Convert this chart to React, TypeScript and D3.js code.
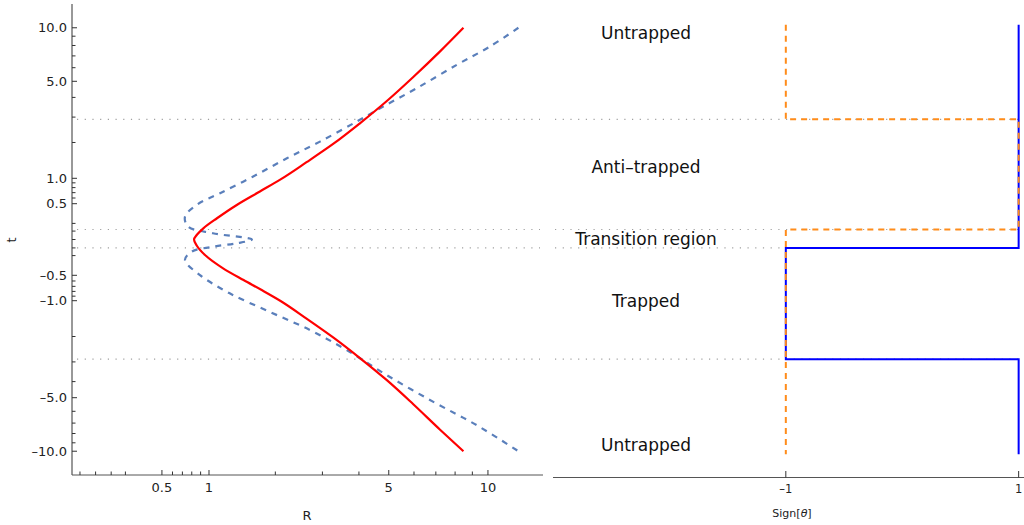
import * as d3 from "d3";

// left panel: R(t) curves
const redT = [10, 7.42, 5.3, 3.8, 2.73, 1.96, 1.4, 0.97, 0.723, 0.479, 0.272, 0.135, 0.052, 0, -0.07, -0.192, -0.386, -0.583, -0.773, -1.0, -1.45, -2.04, -2.83, -3.92, -5.46, -7.62, -10];
const redR = [8.47, 7.21, 5.97, 4.93, 4.03, 3.28, 2.63, 2.09, 1.73, 1.37, 1.1, 0.932, 0.855, 0.825, 0.855, 0.952, 1.18, 1.47, 1.76, 2.09, 2.63, 3.28, 4.03, 4.93, 5.97, 7.21, 8.47];

const blueT = [10, 7.9, 6.23, 4.55, 3.51, 2.8, 2.03, 1.51, 1.04, 0.69, 0.48, 0.295, 0.156, 0.073, 0, -0.044, -0.085, -0.148, -0.262, -0.496, -0.84, -1.27, -1.79, -2.5, -3.65, -5.29, -7.19, -10];
const blueR = [12.25, 10.14, 8.09, 6.12, 4.8, 3.93, 2.94, 2.22, 1.62, 1.14, 0.855, 0.727, 0.762, 1.05, 1.6, 1.37, 1.05, 0.8, 0.727, 0.893, 1.27, 1.9, 2.71, 3.64, 4.93, 6.88, 9.27, 12.25];

// region boundaries in t
const boundaries = [2.9, 0.12, -0.1, -2.88];

// right panel: Sign[theta] per region (top to bottom)
const stepEdges = [10.4, 2.9, 0.12, -0.1, -2.88, -10.4];
const signBlue = [1, 1, 1, -1, 1];
const signOrange = [-1, 1, -1, -1, -1];

const regionLabels = ["Untrapped", "Anti\u2013trapped", "Transition region", "Trapped", "Untrapped"];
const regionLabelT = [9.4, 1.275, 0, -1.0, -9.28];

const yMajor = [10, 5, 1, 0.5, -0.5, -1, -5, -10];
const yMinor = [9, 8, 7, 6, 4, 3, 2, 0.9, 0.8, 0.7, 0.6, 0.2, 0.1, 0, -0.1, -0.2, -0.6, -0.7, -0.8, -0.9, -2, -3, -4, -6, -7, -8, -9];
const xMajor = [0.5, 1, 5, 10];
const xMinor = [-0.1, 0, 0.1, 0.2, 0.6, 0.7, 0.8, 0.9, 2, 3, 4, 6, 7, 8, 9];
const signTicks = [-1, 1];

const font = "DejaVu Sans, sans-serif";
const dash = (s: string) => s.replace("-", "\u2013").replace("\u2212", "\u2013");

export default function App() {
  const y = d3.scaleSymlog().constant(1).domain([-13.4, 13.4]).range([475, 4]);
  const x = d3.scaleSymlog().constant(1).domain([-0.155, 14.4]).range([72, 543]);
  const xs = d3.scaleLinear().domain([-3, 1.046]).range([553, 1024]);

  const blueLine = d3
    .line<[number, number]>()
    .x((d) => x(d[1]))
    .y((d) => y(d[0]))
    .curve(d3.curveCatmullRom.alpha(0.5));
  const redLine = d3
    .line<[number, number]>()
    .x((d) => x(d[1]))
    .y((d) => y(d[0]))
    .curve(d3.curveMonotoneY);

  const redPts = redT.map((t, i) => [t, redR[i]] as [number, number]);
  const bluePts = blueT.map((t, i) => [t, blueR[i]] as [number, number]);

  const stepPts = (signs: number[]) =>
    signs.flatMap((s, i) => [
      [s, stepEdges[i]] as [number, number],
      [s, stepEdges[i + 1]] as [number, number],
    ]);
  const step = d3
    .line<[number, number]>()
    .x((d) => xs(d[0]))
    .y((d) => y(d[1]));

  const fmt = d3.format(".1f");

  return (
    <svg width={1024} height={525} style={{ position: "absolute", left: 0, top: 0, background: "#fff" }} fontFamily={font}>
      {/* grid lines */}
      {boundaries.map((b, i) => (
        <g key={i} stroke="#a0a0a0" strokeWidth={1.2} strokeDasharray="1.2,6.5">
          <line x1={77} x2={540} y1={y(b)} y2={y(b)} />
          <line x1={555} x2={1018} y1={y(b)} y2={y(b)} />
        </g>
      ))}

      {/* left panel axes */}
      <line x1={72} x2={72} y1={4} y2={475} stroke="#333" strokeWidth={1} />
      <line x1={72} x2={543} y1={475} y2={475} stroke="#555" strokeWidth={1} />
      {yMajor.map((t) => (
        <g key={"ym" + t}>
          <line x1={72} x2={77} y1={y(t)} y2={y(t)} stroke="#333" />
          <text x={67} y={y(t)} dy="0.35em" textAnchor="end" fontSize={13} fill="#222">
            {dash(fmt(t))}
          </text>
        </g>
      ))}
      {yMinor.map((t) => (
        <line key={"yn" + t} x1={72} x2={75.5} y1={y(t)} y2={y(t)} stroke="#333" />
      ))}
      {xMajor.map((r) => (
        <g key={"xm" + r}>
          <line x1={x(r)} x2={x(r)} y1={475} y2={470} stroke="#333" />
          <text x={x(r)} y={492} textAnchor="middle" fontSize={13} fill="#222">
            {r}
          </text>
        </g>
      ))}
      {xMinor.map((r) => (
        <line key={"xn" + r} x1={x(r)} x2={x(r)} y1={475} y2={471.5} stroke="#333" />
      ))}
      <text x={307} y={520} textAnchor="middle" fontSize={13} fill="#222">R</text>
      <text transform="translate(16,240) rotate(-90)" textAnchor="middle" fontSize={13} fill="#222">t</text>

      {/* curves */}
      <path d={blueLine(bluePts) ?? ""} fill="none" stroke="#5a7fbb" strokeWidth={2.2} strokeDasharray="6,6" />
      <path d={redLine(redPts) ?? ""} fill="none" stroke="#ff0000" strokeWidth={2.2} />

      {/* right panel */}
      <line x1={553} x2={1024} y1={477.5} y2={477.5} stroke="#555" strokeWidth={1} />
      {signTicks.map((s) => (
        <g key={"st" + s}>
          <line x1={xs(s)} x2={xs(s)} y1={477.5} y2={471} stroke="#333" />
          <text x={xs(s)} y={493} textAnchor="middle" fontSize={11.5} fill="#222">
            {dash(String(s))}
          </text>
        </g>
      ))}
      <text x={792} y={517} textAnchor="middle" fontSize={11} fill="#222">
        Sign[<tspan fontStyle="italic">θ</tspan>]
      </text>

      <path d={step(stepPts(signBlue)) ?? ""} fill="none" stroke="#0000ff" strokeWidth={2} />
      <path d={step(stepPts(signOrange)) ?? ""} fill="none" stroke="#ff8c1a" strokeWidth={2} strokeDasharray="6,5" />

      {regionLabels.map((l, i) => (
        <text key={i} x={646} y={y(regionLabelT[i])} dy="0.35em" textAnchor="middle" fontSize={17} fill="#111">
          {l}
        </text>
      ))}
    </svg>
  );
}
